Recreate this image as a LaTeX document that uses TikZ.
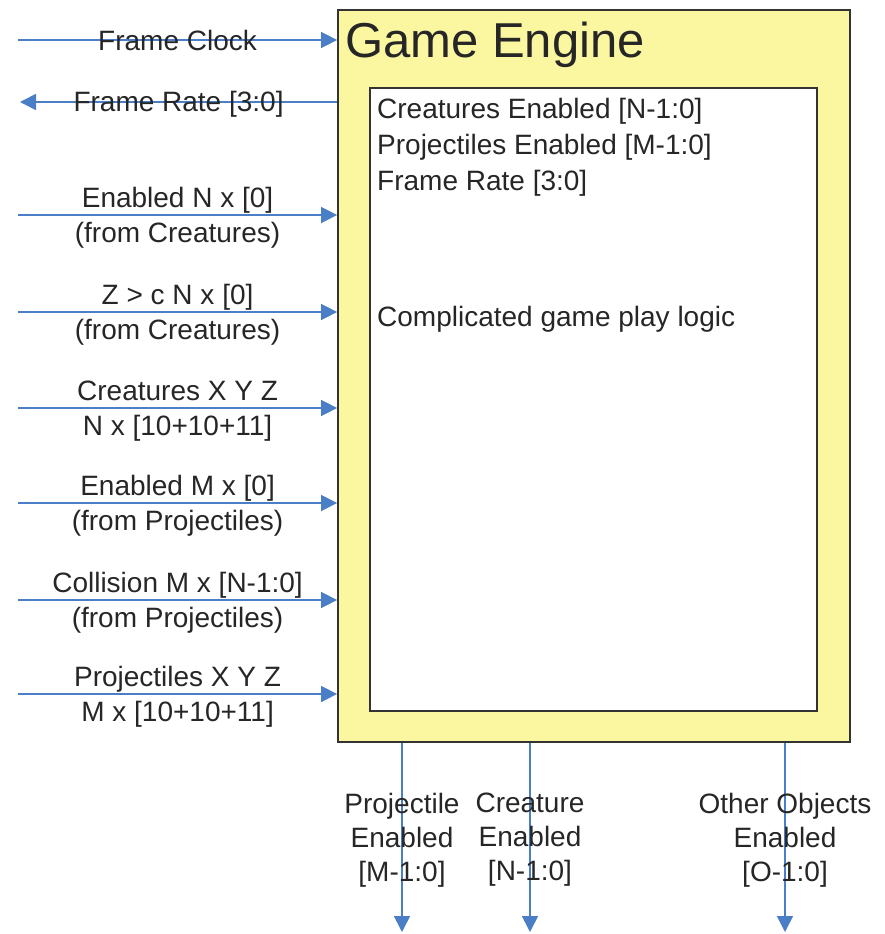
\documentclass[tikz,border=0pt]{standalone}
\usepackage{fontspec}
\setmainfont{Liberation Sans}
\usetikzlibrary{arrows.meta,positioning,calc}
\definecolor{sigblue}{RGB}{74,126,199}
\definecolor{engyellow}{RGB}{250,247,160}

\begin{document}
\begin{tikzpicture}[x=1pt,y=-1pt,
    sig/.style={draw=sigblue,line width=1.6pt,-{Triangle[length=16pt,width=16pt]}},
    lbl/.style={font=\fontsize{28}{35}\selectfont,text=black!85,align=center,inner sep=0pt},
    box/.style={draw=black!80,line width=1.8pt,inner sep=0pt}]
  \useasboundingbox (0,0) rectangle (885,934);
  % engine block
  \node[box,fill=engyellow,minimum width=512pt,minimum height=732pt] (engine) at (594,376) {};
  \node[anchor=base west,font=\fontsize{49}{55}\selectfont,text=black!85,inner sep=0pt] (title) at (345,58) {Game Engine};
  \node[box,fill=white,minimum width=447pt,minimum height=623pt] (logic) at (593.5,399.5) {};
  \node[anchor=north west,align=left,font=\fontsize{28}{36}\selectfont,text=black!85,inner sep=0pt] (regs) at (377,98)
    {Creatures Enabled [N-1:0]\\Projectiles Enabled [M-1:0]\\Frame Rate [3:0]};
  \node[anchor=base west,font=\fontsize{28}{36}\selectfont,text=black!85,inner sep=0pt] (play) at (377,326)
    {Complicated game play logic};
  % clock and frame rate
  \coordinate (clk) at (18,40);
  \draw[sig] (clk) -- node[lbl]{Frame Clock} (clk -| engine.west);
  \coordinate (rate) at (20,102);
  \draw[sig] (rate -| engine.west) -- node[lbl,yshift=-2pt]{Frame Rate [3:0]} (rate);
  % inputs
  \foreach \yy/\txt [count=\k] in {215/{Enabled N x [0]\\(from Creatures)},
      312/{Z > c N x [0]\\(from Creatures)},
      408/{Creatures X Y Z\\N x [10+10+11]},
      503/{Enabled M x [0]\\(from Projectiles)},
      600/{Collision M x [N-1:0]\\(from Projectiles)},
      694/{Projectiles X Y Z\\M x [10+10+11]}}{
    \coordinate (in\k) at (18,\yy);
    \draw[sig] (in\k) -- node[lbl,yshift=-3pt]{\txt} (in\k -| engine.west);
  }
  % outputs
  \foreach \xx/\txt [count=\k] in {402/{Projectile\\Enabled\\{}[M-1:0]},
      530/{Creature\\Enabled\\{}[N-1:0]},
      785/{Other Objects\\Enabled\\{}[O-1:0]}}{
    \coordinate (out\k) at (\xx,932);
    \draw[sig] (out\k |- engine.south) -- (out\k);
    \node[lbl,font=\fontsize{28}{34}\selectfont] (olbl\k) at (\xx,840) {\txt};
  }
\end{tikzpicture}
\end{document}
